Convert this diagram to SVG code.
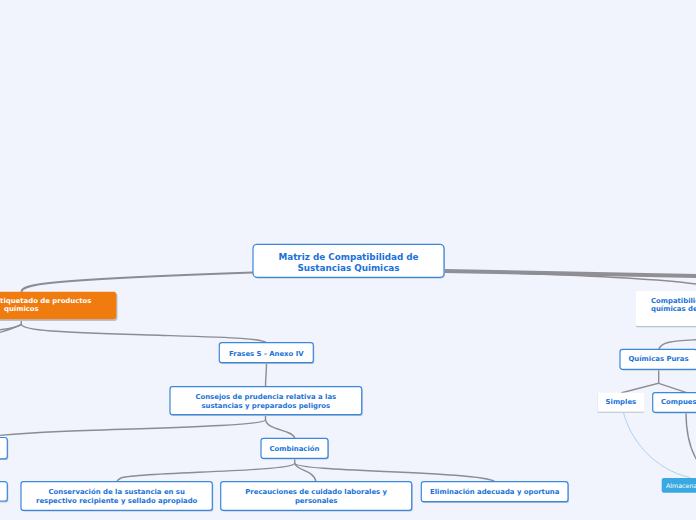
<svg xmlns="http://www.w3.org/2000/svg" width="696" height="520" viewBox="0 0 696 520">
<defs>
<style>
.bg{fill:#f1f4fd}
.box{fill:#ffffff;stroke:#3a87e0;stroke-width:1.2}
.sh{fill:#b9c1cd}
.plain{fill:#ffffff}
.t{font-family:"DejaVu Sans",Verdana,sans-serif;font-weight:bold;font-size:6.9px;fill:#1a72d8;text-anchor:middle}
.ts{text-anchor:start}
.tw{fill:#ffffff}
.title{font-size:8.8px}
.c{fill:none;stroke:#8c8c92;stroke-width:1.4;stroke-linecap:round}
.cb{fill:none;stroke:#a9d3f1;stroke-width:1}
</style>
</defs>
<rect class="bg" x="0" y="0" width="696" height="520"/>

<g id="connectors">
<path class="c" d="M253,272.5 C150,276 60,281 38,284.5 C27,286.5 22,288 21.5,291.5" style="stroke-width:1.8"/>
<path class="c" d="M444,271 C540,272.5 620,274.5 700,276" style="stroke-width:4;stroke:#8f8f95"/>
<path class="c" d="M520,273.5 C600,276 660,279 700,284.5" style="stroke-width:1.4"/>
<path class="c" d="M21.3,319 L21.3,324.5 C18,327 10,328.5 -2,330"/>
<path class="c" d="M21.3,324.5 C16,327 8,330 -2,333"/>
<path class="c" d="M21.3,324.5 C24,331 60,332 150,335 C230,337.5 262,338 266.5,343"/>
<path class="c" d="M266.5,363 C266.5,372 265.5,378 265.5,387"/>
<path class="c" d="M265.5,414.5 L265.5,420 C262,426 150,428 60,431.5 C30,433 10,434.5 -2,435.5"/>
<path class="c" d="M265.5,420 C268,431 292,429 294.7,438"/>
<path class="c" d="M294.7,458.3 L294.7,463.5 C290,472 135,472 121,478 C118,479.5 117,480.5 116.7,481.7"/>
<path class="c" d="M294.7,463.5 C297,471 314,470 316,481.7"/>
<path class="c" d="M294.7,463.5 C300,472 480,471 495,481.7"/>
<path class="c" d="M700,339.5 C675,341 661,341 659,349.3"/>
<path class="c" d="M658.7,369.3 L658.7,383.3 L621.7,392.7"/>
<path class="c" d="M658.7,383.3 L686.7,392.7"/>
<path class="c" d="M686,412.3 C686,430 689,448 698,462"/>
<path class="cb" d="M623.3,411.7 C630,440 655,470 690,477.5"/>
</g>

<g id="main">
<rect class="sh" x="254" y="245.5" width="191" height="33" rx="4"/>
<rect class="box" x="253" y="244.3" width="191" height="33" rx="4"/>
<text class="t title" x="348.5" y="259.5">Matriz de Compatibilidad de</text>
<text class="t title" x="348.5" y="270.5">Sustancias Quimicas</text>
</g>

<g id="etiquetado">
<rect class="sh" x="-20" y="293" width="137.5" height="28" rx="3"/>
<rect x="-20" y="291.7" width="136.3" height="27.6" rx="3" fill="#f07b0f"/>
<text class="t ts tw" x="-4.6" y="303.3">Etiquetado de productos</text>
<text class="t ts tw" x="4" y="311.3">químicos</text>
</g>

<g id="frases">
<rect class="sh" x="220.3" y="343.9" width="94" height="20" rx="2.5"/>
<rect class="box" x="219.3" y="342.7" width="94" height="20" rx="2.5"/>
<text class="t" x="266.3" y="356">Frases S - Anexo IV</text>
</g>

<g id="consejos">
<rect class="sh" x="171" y="387.9" width="191.7" height="28" rx="2.5"/>
<rect class="box" x="170" y="386.7" width="191.7" height="28" rx="2.5"/>
<text class="t" x="265.8" y="399">Consejos de prudencia relativa a las</text>
<text class="t" x="265.8" y="408">sustancias y preparados peligros</text>
</g>

<g id="left-node-1">
<rect class="sh" x="-50" y="438.5" width="58.3" height="21.5" rx="2.5"/>
<rect class="box" x="-50" y="437.5" width="57.3" height="21.3" rx="2.5"/>
</g>

<g id="left-node-2">
<rect class="sh" x="-50" y="482.9" width="58.3" height="19.5" rx="2.5"/>
<rect class="box" x="-50" y="481.7" width="57.3" height="19.3" rx="2.5"/>
</g>

<g id="combinacion">
<rect class="sh" x="262" y="439.5" width="67" height="20" rx="2.5"/>
<rect class="box" x="261" y="438.3" width="67" height="20" rx="2.5"/>
<text class="t" x="294.5" y="450.8">Combinación</text>
</g>

<g id="conservacion">
<rect class="sh" x="22" y="482.9" width="191.3" height="28.6" rx="2.5"/>
<rect class="box" x="21" y="481.7" width="191.3" height="28.6" rx="2.5"/>
<text class="t" x="116.7" y="494.3">Conservación de la sustancia en su</text>
<text class="t" x="116.7" y="502.7">respectivo recipiente y sellado apropiado</text>
</g>

<g id="precauciones">
<rect class="sh" x="221.7" y="482.9" width="191" height="28.6" rx="2.5"/>
<rect class="box" x="220.7" y="481.7" width="191" height="28.6" rx="2.5"/>
<text class="t" x="316.2" y="494.3">Precauciones de cuidado laborales y</text>
<text class="t" x="316.2" y="502.6">personales</text>
</g>

<g id="eliminacion">
<rect class="sh" x="422.3" y="482.9" width="146.7" height="20" rx="2.5"/>
<rect class="box" x="421.3" y="481.7" width="146.7" height="20" rx="2.5"/>
<text class="t" x="494.7" y="494.3">Eliminación adecuada y oportuna</text>
</g>

<g id="compatibilidad">
<rect class="sh" x="636" y="292" width="90" height="35.2" rx="1"/>
<rect class="plain" x="636" y="291" width="90" height="35" rx="1"/>
<text class="t ts" x="651" y="303.3">Compatibilidad</text>
<text class="t ts" x="651" y="311.3">químicas de</text>
</g>

<g id="quimicas-puras">
<rect class="sh" x="621" y="350.5" width="77" height="20" rx="2.5"/>
<rect class="box" x="620" y="349.3" width="77" height="20" rx="2.5"/>
<text class="t" x="658.5" y="361.3">Químicas Puras</text>
</g>

<g id="simples">
<rect class="sh" x="597.7" y="393" width="46.3" height="19.7"/>
<rect class="plain" x="597.7" y="392.7" width="46.3" height="19"/>
<text class="t" x="620.9" y="404.3">Simples</text>
</g>

<g id="compuestas">
<rect class="sh" x="653.7" y="393.9" width="70" height="19.6" rx="2.5"/>
<rect class="box" x="652.7" y="392.7" width="70" height="19.6" rx="2.5"/>
<text class="t ts" x="661" y="404.3">Compuestas</text>
</g>

<g id="almacenamiento">
<rect x="661.7" y="478" width="70" height="14.7" rx="2" fill="#3aa9e2"/>
<text x="666" y="487.6" style="font-family:'DejaVu Sans',Verdana,sans-serif;font-size:6.3px;fill:#ffffff">Almacenamiento</text>
</g>
</svg>
